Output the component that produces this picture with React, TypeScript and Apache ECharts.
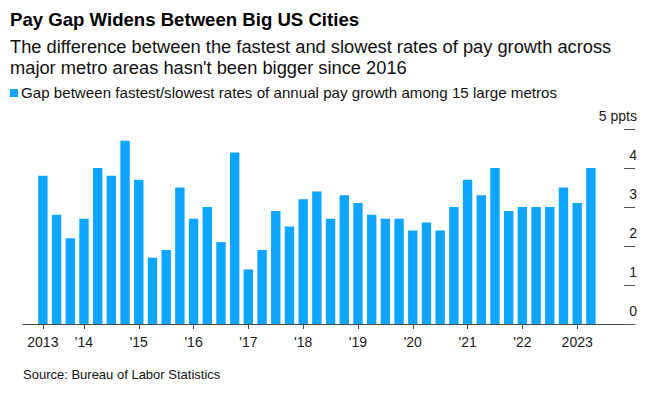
import React, { useEffect, useRef } from "react";
import * as echarts from "echarts";

const quarters = [
  "2013 Q1", "2013 Q2", "2013 Q3", "2013 Q4",
  "2014 Q1", "2014 Q2", "2014 Q3", "2014 Q4",
  "2015 Q1", "2015 Q2", "2015 Q3", "2015 Q4",
  "2016 Q1", "2016 Q2", "2016 Q3", "2016 Q4",
  "2017 Q1", "2017 Q2", "2017 Q3", "2017 Q4",
  "2018 Q1", "2018 Q2", "2018 Q3", "2018 Q4",
  "2019 Q1", "2019 Q2", "2019 Q3", "2019 Q4",
  "2020 Q1", "2020 Q2", "2020 Q3", "2020 Q4",
  "2021 Q1", "2021 Q2", "2021 Q3", "2021 Q4",
  "2022 Q1", "2022 Q2", "2022 Q3", "2022 Q4",
  "2023 Q1",
];

const gapValues = [
  3.8, 2.8, 2.2, 2.7,
  4.0, 3.8, 4.7, 3.7,
  1.7, 1.9, 3.5, 2.7,
  3.0, 2.1, 4.4, 1.4,
  1.9, 2.9, 2.5, 3.2,
  3.4, 2.7, 3.3, 3.1,
  2.8, 2.7, 2.7, 2.4,
  2.6, 2.4, 3.0, 3.7,
  3.3, 4.0, 2.9, 3.0,
  3.0, 3.0, 3.5, 3.1,
  4.0,
];

const yearTickIndex = [0, 3, 7, 11, 15, 19, 23, 27, 31, 35, 39];
const yearTickLabels = ["2013", "'14", "'15", "'16", "'17", "'18", "'19", "'20", "'21", "'22", "2023"];

const seriesName = "Gap between fastest/slowest rates of annual pay growth among 15 large metros";
const titleText = "Pay Gap Widens Between Big US Cities";
const subtitleLines = [
  "The difference between the fastest and slowest rates of pay growth across",
  "major metro areas hasn't been bigger since 2016",
];
const sourceText = "Source: Bureau of Labor Statistics";

const FONT = "'Liberation Sans', Arial, Helvetica, sans-serif";
const BAR_COLOR = "#0ea5ff";

export default function App() {
  const ref = useRef<HTMLDivElement>(null);
  useEffect(() => {
    const chart = echarts.init(ref.current!, null, { renderer: "svg" });
    const labelMap: Record<number, string> = {};
    yearTickIndex.forEach((idx, k) => (labelMap[idx] = yearTickLabels[k]));
    chart.setOption({
      animation: false,
      textStyle: { fontFamily: FONT },
      grid: { left: 23, right: 25, top: 129, bottom: 83 },
      xAxis: {
        type: "value",
        min: -1.45,
        max: 43.22,
        splitLine: { show: false },
        axisLine: { show: true, onZero: false, lineStyle: { color: "#4a4a4a", width: 1 } },
        axisTick: {
          show: true,
          customValues: yearTickIndex,
          length: 5,
          lineStyle: { color: "#4a4a4a" },
        },
        axisLabel: {
          customValues: yearTickIndex,
          formatter: (v: number) => labelMap[Math.round(v)] ?? "",
          color: "#1a1a1a",
          fontSize: 14,
          fontFamily: FONT,
          margin: 11,
        },
      },
      yAxis: {
        type: "value",
        position: "right",
        min: 0,
        max: 5,
        interval: 1,
        splitLine: { show: false },
        axisLine: { show: false, onZero: false },
        axisTick: { show: true, inside: true, length: 11, lineStyle: { color: "#555" } },
        axisLabel: {
          align: "right",
          verticalAlign: "bottom",
          margin: 2,
          padding: [0, 0, 6, 0],
          color: "#1a1a1a",
          fontSize: 14,
          fontFamily: FONT,
          formatter: (v: number) => (v === 5 ? "5 ppts" : String(v)),
        },
      },
      series: [
        {
          name: seriesName,
          type: "bar",
          barWidth: 9.4,
          itemStyle: { color: BAR_COLOR },
          data: gapValues.map((v, i) => [i, v]),
        },
      ],
      graphic: [
        {
          type: "text",
          left: 10,
          top: 10,
          style: { text: titleText, font: `bold 18.6px ${FONT}`, fill: "#000" },
        },
        {
          type: "text",
          left: 10,
          top: 37,
          style: { text: subtitleLines[0], font: `18.3px ${FONT}`, fill: "#111" },
        },
        {
          type: "text",
          left: 10,
          top: 58,
          style: { text: subtitleLines[1], font: `18.3px ${FONT}`, fill: "#111" },
        },
        {
          type: "rect",
          shape: { x: 10, y: 89, width: 8, height: 8 },
          style: { fill: BAR_COLOR },
        },
        {
          type: "text",
          left: 21,
          top: 85,
          style: { text: seriesName, font: `15.15px ${FONT}`, fill: "#111" },
        },
        {
          type: "text",
          left: 23,
          top: 368,
          style: { text: sourceText, font: `13px ${FONT}`, fill: "#111" },
        },
      ],
    });
    return () => chart.dispose();
  }, []);
  return (
    <div
      ref={ref}
      style={{ position: "fixed", left: 0, top: 0, width: 660, height: 407, background: "#fff" }}
    />
  );
}
